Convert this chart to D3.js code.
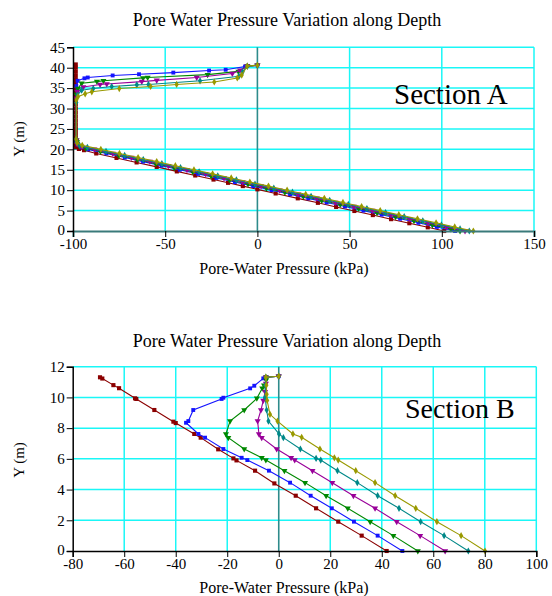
<!DOCTYPE html>
<html><head><meta charset="utf-8">
<script src="https://cdn.jsdelivr.net/npm/d3@7"></script>
<style>body{margin:0;background:#fff}svg{display:block}</style>
</head><body>
<svg id="c" width="552" height="596"></svg>
<script>
// ---------- DATA ----------
const chartTitle = "Pore Water Pressure Variation along Depth";
const xLabel = "Pore-Water Pressure (kPa)";
const yLabel = "Y (m)";
const seriesColors = ["#8B0000","#1414FF","#008800","#990099","#008888","#999900"];

const xTicksA = [-100,-50,0,50,100,150];
const yTicksA = [0,5,10,15,20,25,30,35,40,45];
const xTicksB = [-80,-60,-40,-20,0,20,40,60,80,100];
const yTicksB = [0,2,4,6,8,10,12];

// Section A  [pressure kPa, Y m]
const redA = [[-98.5,40.8],[-98.5,40],[-98.5,39],[-98.5,38],[-98.5,37],[-98.5,36],[-98.5,35],[-98.5,34],[-98.5,33],[-98.5,32],[-98.5,31],[-98.5,30],[-98.5,29],[-98.5,28],[-98.5,27],[-98.5,26],[-98.5,25],[-98.5,24],[-98.5,23],[-98.5,22],[-98.5,21],[-98.3,20.5],[-96.8,20.1],[-94,19.8],[-87.4,19.0],[-76.4,17.9],[-65.5,16.8],[-54.6,15.7],[-43.7,14.6],[-33.7,13.6],[-23.8,12.6],[-15.9,11.8],[-7.9,11.0],[0.0,10.2],[9.9,9.2],[21.9,8.0],[32.8,6.9],[42.7,5.9],[52.6,4.9],[62.6,3.9],[72.5,2.9],[82.4,1.9],[92.4,0.9],[101.3,0]];
const blueA = [[0,40.6],[-5.5,40.4],[-6.7,40.3],[-17.2,39.5],[-26.2,39.3],[-45.6,38.8],[-64.2,38.4],[-78.5,38.1],[-92,37.6],[-93.8,37.4],[-97.5,36.8],[-98.2,35.5],[-98.2,22.0],[-97.6,21.2],[-95.5,20.5],[-91.8,20],[-81.9,19],[-71.9,18],[-62.0,17],[-52.0,16],[-42.1,15],[-32.1,14],[-22.2,13],[-12.2,12],[-2.3,11],[7.7,10],[17.7,9],[27.6,8],[37.6,7],[47.5,6],[57.5,5],[67.4,4],[77.4,3],[87.3,2],[97.3,1],[107.2,0]];
const greenA = [[0,40.6],[-5.5,40.4],[-10.3,39.1],[-27,38.3],[-59.5,37.6],[-62,37.5],[-83.5,36.8],[-87,36.6],[-95.3,36.2],[-97.3,34.9],[-98.1,33.5],[-98.1,22.2],[-97.8,21.8],[-96.5,20.9],[-93.1,20.3],[-85.1,19.5],[-75.1,18.5],[-65.1,17.5],[-55.1,16.5],[-45.1,15.5],[-35.1,14.5],[-25.1,13.5],[-15.1,12.5],[-5.1,11.5],[4.9,10.5],[14.9,9.5],[24.9,8.5],[34.9,7.5],[44.9,6.5],[54.9,5.5],[64.9,4.5],[74.9,3.5],[84.9,2.5],[94.9,1.5],[104.9,0.5],[109.9,0]];
const purpleA = [[0,40.6],[-5.5,40.4],[-9.4,39.4],[-13.6,38.6],[-32.9,37.6],[-54.6,36.9],[-62.7,36.6],[-81.7,36.0],[-85.3,35.9],[-94.4,35.3],[-97.6,34.1],[-98.2,32.5],[-98.2,22.3],[-97.7,21.3],[-95.4,20.7],[-88.4,20],[-78.4,19],[-68.3,18],[-58.3,17],[-48.2,16],[-38.2,15],[-28.1,14],[-18.1,13],[-8.0,12],[2.0,11],[12.1,10],[22.2,9],[32.2,8],[42.3,7],[52.3,6],[62.4,5],[72.4,4],[82.5,3],[92.5,2],[102.6,1],[112.6,0]];
const tealA = [[0,40.6],[-5.5,40.4],[-8,39],[-10,37.9],[-31.1,36.8],[-59.1,35.9],[-65.4,35.8],[-79,35.4],[-89,34.9],[-95.3,34.5],[-97.6,33.3],[-98.2,31.5],[-98.3,22.6],[-98.1,21.8],[-96.5,21],[-92.2,20.5],[-82.1,19.5],[-72.0,18.5],[-61.9,17.5],[-51.8,16.5],[-41.7,15.5],[-31.6,14.5],[-21.5,13.5],[-11.4,12.5],[-1.3,11.5],[8.9,10.5],[19.0,9.5],[29.1,8.5],[39.2,7.5],[49.3,6.5],[59.4,5.5],[69.5,4.5],[79.6,3.5],[89.7,2.5],[99.8,1.5],[109.9,0.5],[114.9,0]];
const oliveA = [[0,40.6],[-5.5,40.4],[-8.5,38.2],[-10.9,37.5],[-23.4,36.5],[-43.8,35.9],[-57.9,35.4],[-74.9,34.9],[-89.8,34.1],[-93.4,33.6],[-97.3,32.9],[-98.2,32.1],[-98.3,22.5],[-97.8,21.6],[-95.0,21],[-84.9,20],[-74.8,19],[-64.7,18],[-54.6,17],[-44.5,16],[-34.4,15],[-24.3,14],[-14.2,13],[-4.1,12],[6.0,11],[16.1,10],[26.2,9],[36.3,8],[46.4,7],[56.5,6],[66.6,5],[76.7,4],[86.8,3],[96.9,2],[107.0,1],[117.1,0]];

// Section B
const redB = [[-69.4,11.31],[-68.5,11.23],[-64.2,10.8],[-62,10.6],[-55.8,9.94],[-55.3,9.9],[-48.3,9.18],[-40.9,8.42],[-40,8.33],[-32.8,7.62],[-30.3,7.38],[-23.5,6.62],[-17.6,6.03],[-16.4,5.9],[-9.2,5.23],[-1.7,4.4],[6.6,3.6],[14.5,2.78],[23.1,1.91],[32.2,1.0],[41.9,0]];
const blueB = [[0,11.38],[-5,11.32],[-6,11.24],[-9.5,10.76],[-11.1,10.59],[-21.5,9.98],[-22.2,9.9],[-33.2,9.18],[-35.1,8.46],[-36,8.35],[-31.2,7.62],[-28.6,7.38],[-21.5,6.64],[-14.4,6.07],[-12.2,5.92],[-3.8,5.23],[4.4,4.45],[12.4,3.6],[20.6,2.78],[29.2,1.91],[38.4,1.0],[48,0]];
const greenB = [[0,11.38],[-5,11.32],[-4.9,11.13],[-5.7,10.8],[-6.4,10.59],[-8.5,9.94],[-13.4,9.18],[-18.9,8.46],[-20.5,7.62],[-19.6,7.38],[-13.4,6.64],[-6.6,6.07],[-5.0,5.92],[2.2,5.23],[10.2,4.45],[18.4,3.6],[26.8,2.78],[35.5,1.91],[44.5,1.0],[54,0]];
const purpleB = [[0,11.38],[-5,11.32],[-5,10.9],[-5.3,10.37],[-6,9.8],[-6.9,9.18],[-8.2,8.46],[-7.7,7.62],[-6.6,7.38],[-0.8,6.64],[4.8,6.07],[6.2,5.92],[13.1,5.23],[20.8,4.45],[29,3.6],[37.4,2.78],[45.8,1.91],[54.9,1.0],[64.6,0]];
const tealB = [[0,11.38],[-5,11.32],[-5.2,10.8],[-5.3,10],[-4.7,9.18],[-4,8.46],[0.1,7.62],[1.8,7.38],[8.4,6.64],[14.5,6.03],[16.3,5.92],[22.8,5.23],[30.5,4.45],[38.4,3.6],[46.7,2.78],[55.1,1.91],[64.2,1.0],[73.6,0]];
const oliveB = [[0,11.38],[-5,11.32],[-4.8,10.8],[-4.7,10.2],[-4.5,9.8],[-3.4,8.9],[-0.5,8.46],[5.5,7.62],[8.9,7.4],[16,6.64],[21.6,6.07],[23.1,5.92],[29.9,5.23],[37.4,4.45],[45.2,3.6],[53.2,2.78],[61.4,1.91],[70.8,1.0],[80.1,0]];

const seriesA = [redA, blueA, greenA, purpleA, tealA, oliveA];
const seriesB = [redB, blueB, greenB, purpleB, tealB, oliveB];
// ---------- DRAW ----------
const FONT = '"Liberation Serif", "Times New Roman", Times, "DejaVu Serif", serif';
const svg = d3.select("#c");
const symbols = [d3.symbolSquare, d3.symbolSquare, d3.symbolTriangle, d3.symbolTriangle, d3.symbolDiamond, d3.symbolDiamond];
const symSizes = [17, 15, 16, 16, 15, 15];
const flips = [false,false,true,true,false,false];

function txt(sel, size){ return sel.style("font-family", FONT).style("font-size", size+"px").attr("fill","#000"); }

function panel(cfg){
  const g = svg.append("g");
  const x = d3.scaleLinear().domain(cfg.xDomain).range(cfg.xRange);
  const y = d3.scaleLinear().domain(cfg.yDomain).range(cfg.yRange);
  g.selectAll(".vg").data(cfg.xTicks.filter(v=>v!==cfg.xDomain[0] && v!==0)).enter().append("line")
    .attr("x1",d=>x(d)).attr("x2",d=>x(d)).attr("y1",y(cfg.yDomain[0])).attr("y2",y(cfg.yDomain[1]))
    .attr("stroke","#1AF7F7").attr("stroke-width",1.5);
  g.selectAll(".hg").data(cfg.yTicks.filter(v=>v!==cfg.yDomain[0])).enter().append("line")
    .attr("x1",x(cfg.xDomain[0])).attr("x2",x(cfg.xDomain[1])).attr("y1",d=>y(d)).attr("y2",d=>y(d))
    .attr("stroke","#1AF7F7").attr("stroke-width",1.5);
  g.append("line").attr("x1",x(0)).attr("x2",x(0)).attr("y1",y(cfg.yDomain[0])).attr("y2",y(cfg.yDomain[1]))
    .attr("stroke","#2E8B8B").attr("stroke-width",1.6);
  const line = d3.line().x(d=>x(d[0])).y(d=>y(d[1]));
  cfg.series.forEach((s,i)=>{
    g.append("path").attr("d",line(s)).attr("fill","none").attr("stroke",seriesColors[i]).attr("stroke-width",1.1);
    const sym = d3.symbol().type(symbols[i]).size(symSizes[i]);
    g.selectAll(null).data(s).enter().append("path").attr("d",sym)
      .attr("transform",d=>`translate(${x(d[0])},${y(d[1])})${flips[i]?" rotate(180)":""}`)
      .attr("fill",seriesColors[i]);
  });
  const ax = g.append("g").attr("transform",`translate(0,${y(cfg.yDomain[0])})`)
    .call(d3.axisBottom(x).tickValues(cfg.xTicks).tickSize(6).tickPadding(1).tickFormat(d=>String(d)));
  ax.attr("font-family", null);
  ax.select(".domain").attr("stroke",cfg.xAxisColor).attr("stroke-width",cfg.xAxisWidth);
  ax.selectAll(".tick line").attr("stroke","#000");
  txt(ax.selectAll("text"), 15);
  const ay = g.append("g").attr("transform",`translate(${x(cfg.xDomain[0])},0)`)
    .call(d3.axisLeft(y).tickValues(cfg.yTicks).tickSize(6).tickPadding(2).tickFormat(d=>String(d)));
  ay.attr("font-family", null);
  ay.select(".domain").attr("stroke","#000").attr("stroke-width",1.5);
  ay.selectAll(".tick line").attr("stroke","#000");
  txt(ay.selectAll("text"), 15);
  ay.selectAll(".tick").filter(d=>d===0).select("text").attr("dy","0.2em");
  txt(svg.append("text").attr("x",cfg.titleX).attr("y",cfg.titleY).attr("text-anchor","middle"), 18).text(chartTitle);
  txt(svg.append("text").attr("x",cfg.xlabX).attr("y",cfg.xlabY).attr("text-anchor","middle"), 16).text(xLabel);
  txt(svg.append("text").attr("transform",`translate(${cfg.ylabX},${cfg.ylabY}) rotate(-90)`).attr("text-anchor","middle"), 15).text(yLabel);
  txt(svg.append("text").attr("x",cfg.secX).attr("y",cfg.secY), cfg.secSize).text(cfg.section);
}

panel({xDomain:[-100,150], xRange:[73,534], yDomain:[0,45], yRange:[231,47.3],
  xTicks:xTicksA, yTicks:yTicksA, series:seriesA, xAxisColor:"#3A7A7A", xAxisWidth:2.2,
  titleX:287, titleY:26, xlabX:284, xlabY:274, ylabX:24, ylabY:139,
  section:"Section A", secX:394, secY:104, secSize:29});
panel({xDomain:[-80,100], xRange:[72.7,536.3], yDomain:[0,12], yRange:[551,366.7],
  xTicks:xTicksB, yTicks:yTicksB, series:seriesB, xAxisColor:"#000", xAxisWidth:1.5,
  titleX:287, titleY:347, xlabX:284, xlabY:593, ylabX:24, ylabY:460,
  section:"Section B", secX:405, secY:418, secSize:28});
</script>
</body></html>
